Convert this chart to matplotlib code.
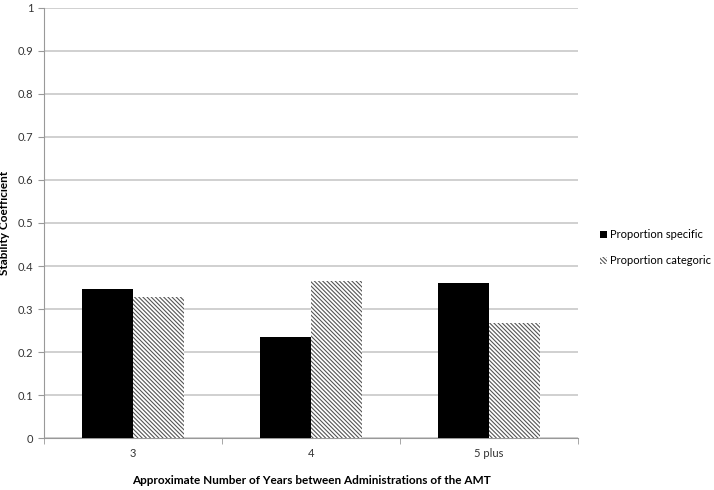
import numpy as np
import matplotlib.pyplot as plt
from matplotlib.patches import Patch

categories = ['3', '4', '5 plus']
specific = [0.347, 0.235, 0.360]
categoric = [0.328, 0.365, 0.267]

plt.rcParams['font.family'] = ['Lato', 'DejaVu Sans']
plt.rcParams['hatch.linewidth'] = 0.8
plt.rcParams['hatch.color'] = '#333333'

fig = plt.figure(figsize=(7.14, 4.9), dpi=100)
ax = fig.add_axes([0.0616, 0.1061, 0.7479, 0.8776])

hatch = '\\' * 8
x = np.arange(len(categories))
w = 0.287
ax.bar(x - w / 2, specific, w, color='black', edgecolor='none', zorder=3,
       label='Proportion specific')
ax.bar(x + w / 2, categoric, w, color='white', edgecolor='#555555', linewidth=0,
       hatch=hatch, zorder=3, label='Proportion categoric')

ax.set_xlim(-0.5, 2.5)
ax.set_ylim(0, 1)
ax.set_yticks(np.arange(0, 1.01, 0.1))
ax.set_yticklabels(['0', '0.1', '0.2', '0.3', '0.4', '0.5', '0.6', '0.7', '0.8', '0.9', '1'])
ax.set_xticks(x)
ax.set_xticklabels(categories)
ax.set_xticks([-0.5, 0.5, 1.5, 2.5], minor=True)
ax.tick_params(axis='x', which='major', length=0, labelsize=8, colors='#333333', pad=7)
ax.tick_params(axis='x', which='minor', length=4, color='#999999')
ax.tick_params(axis='y', length=4, color='#999999', labelsize=8, labelcolor='#333333')

ax.grid(axis='y', color='#c8c8c8', linewidth=1.2, zorder=0)
for s in ['top', 'right']:
    ax.spines[s].set_visible(False)
ax.spines['left'].set_color('#999999')
ax.spines['bottom'].set_color('#999999')

ax.set_ylabel('Stability Coefficient', fontsize=8.5, fontweight='bold')
ax.yaxis.set_label_coords(-0.064, 0.5)
ax.set_xlabel('Approximate Number of Years between Administrations of the AMT',
              fontsize=8.5, fontweight='bold', labelpad=12)

handles = [Patch(facecolor='black', edgecolor='none', label='Proportion specific'),
           Patch(facecolor='white', edgecolor='#555555', linewidth=0, hatch=hatch,
                 label='Proportion categoric')]
fig.legend(handles=handles, loc='center left', bbox_to_anchor=(0.827, 0.495),
           frameon=False, fontsize=8, handlelength=0.6, handleheight=0.6,
           handletextpad=0.3, labelspacing=1.35)

fig.savefig('out.png', dpi=100)
